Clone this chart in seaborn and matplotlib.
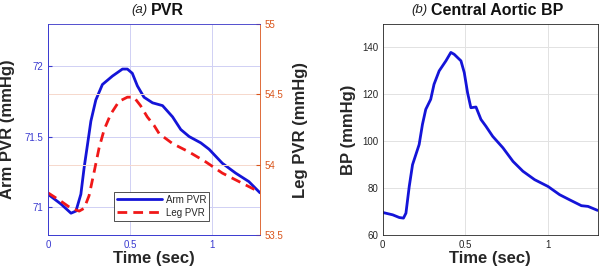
import numpy as np
import pandas as pd
import matplotlib
matplotlib.use("Agg")
import matplotlib.pyplot as plt
import seaborn as sns

sns.set_style("white")
plt.rcParams['font.family'] = ['Liberation Sans', 'DejaVu Sans']

# (a) PVR
arm_t = [0, 0.079, 0.14, 0.17, 0.2, 0.22, 0.24, 0.261, 0.291, 0.331, 0.392, 0.453,
         0.483, 0.513, 0.544, 0.584, 0.636, 0.697, 0.758, 0.808, 0.859, 0.93, 0.98,
         1.061, 1.142, 1.222, 1.29]
arm_pvr = [71.09, 71.02, 70.955, 70.97, 71.09, 71.28, 71.44, 71.61, 71.76, 71.87, 71.93,
           71.98, 71.98, 71.95, 71.86, 71.78, 71.74, 71.72, 71.64, 71.55, 71.50, 71.455,
           71.41, 71.31, 71.24, 71.18, 71.10]

leg_t = [0, 0.079, 0.14, 0.19, 0.22, 0.25, 0.281, 0.311, 0.342, 0.382, 0.432, 0.483,
         0.523, 0.563, 0.604, 0.645, 0.677, 0.758, 0.859, 0.96, 1.061, 1.162, 1.263, 1.29]
leg_pvr = [53.80, 53.74, 53.69, 53.67, 53.69, 53.78, 53.95, 54.12, 54.25, 54.36, 54.45,
           54.48, 54.48, 54.42, 54.34, 54.28, 54.22, 54.15, 54.09, 54.02, 53.94, 53.88,
           53.82, 53.81]

# (b) central aortic BP
bp_t = [0, 0.06, 0.1, 0.125, 0.14, 0.16, 0.18, 0.2, 0.22, 0.24, 0.26, 0.29, 0.31,
        0.341, 0.382, 0.412, 0.432, 0.473, 0.493, 0.513, 0.533, 0.564, 0.594, 0.624,
        0.665, 0.727, 0.788, 0.848, 0.919, 1.0, 1.07, 1.131, 1.202, 1.242, 1.30]
bp = [69.6, 68.6, 67.45, 67.2, 69.3, 80.7, 90.0, 94.3, 98.6, 107.2, 113.6, 117.9, 124.3,
      130.0, 134.3, 137.9, 137.1, 134.3, 129.3, 120.7, 114.3, 114.6, 109.3, 106.4,
      102.1, 97.2, 91.4, 87.2, 83.6, 80.7, 77.2, 75.0, 72.5, 72.2, 70.5]

blue = "#1414d8"
left_c = "#3a3ad0"
right_c = "#d9541a"
red = "#f01818"

fig = plt.figure(figsize=(6, 2.75), dpi=100)

# ---- panel a ----
ax = fig.add_axes([0.08, 0.1455, 0.3533, 0.767])
ax2 = ax.twinx()
sns.lineplot(x=arm_t, y=arm_pvr, ax=ax, color=blue, lw=2, label="Arm PVR", legend=False)
sns.lineplot(x=leg_t, y=leg_pvr, ax=ax2, color=red, lw=2, ls=(0, (3.5, 2.2)),
             label="Leg PVR", legend=False)
ax.set_xlim(0, 1.29)
ax.set_ylim(70.8, 72.3)
ax2.set_ylim(53.5, 55)
ax.set_xticks([0, 0.5, 1])
ax.set_xticklabels(["0", "0.5", "1"])
ax.set_yticks([71, 71.5, 72])
ax.set_yticklabels(["71", "71.5", "72"])
ax2.set_yticks([53.5, 54, 54.5, 55])
ax2.set_yticklabels(["53.5", "54", "54.5", "55"])
ax.grid(True, color="#d0d0f4", lw=0.7)
ax2.grid(True, axis="y", color="#f6d8cc", lw=0.7)
ax.set_axisbelow(True)
ax.tick_params(axis="both", colors=left_c, labelsize=7, direction="in", length=3)
ax2.tick_params(axis="y", colors=right_c, labelsize=7, direction="in", length=3)
for s in ["left", "bottom", "top"]:
    ax.spines[s].set_color(left_c)
    ax2.spines[s].set_color(left_c)
ax2.spines["right"].set_color(right_c)
ax.spines["right"].set_visible(False)
for sp in list(ax.spines.values()) + list(ax2.spines.values()):
    sp.set_linewidth(0.6)
ax.set_xlabel("Time (sec)", fontsize=12, fontweight="bold", labelpad=1)
ax.set_ylabel("Arm PVR (mmHg)", fontsize=12, fontweight="bold", labelpad=7)
ax2.set_ylabel("Leg PVR (mmHg)", fontsize=12, fontweight="bold", labelpad=7)
ax.text(0.47, 1.065, "(a)", transform=ax.transAxes, ha="right", va="center",
        fontsize=9.5, style="italic", color="#222222")
ax.text(0.485, 1.065, "PVR", transform=ax.transAxes, ha="left", va="center",
        fontsize=11.5, fontweight="bold", color="#111111")
h1, l1 = ax.get_legend_handles_labels()
h2, l2 = ax2.get_legend_handles_labels()
leg = ax2.legend(h1 + h2, l1 + l2, loc="lower left", bbox_to_anchor=(0.29, 0.045),
                 fontsize=7, frameon=True, fancybox=False, framealpha=1,
                 handlelength=4.6, borderpad=0.3, labelspacing=0.3, handletextpad=0.4)
leg.get_frame().set_edgecolor("#333333")
leg.get_frame().set_linewidth(0.6)

# ---- panel b ----
bx = fig.add_axes([0.638, 0.1455, 0.358, 0.767])
sns.lineplot(x=bp_t, y=bp, ax=bx, color=blue, lw=2)
bx.set_xlim(0, 1.30)
bx.set_ylim(60, 150)
bx.set_xticks([0, 0.5, 1])
bx.set_xticklabels(["0", "0.5", "1"])
bx.set_yticks([60, 80, 100, 120, 140])
bx.grid(True, color="#e2e2e2", lw=0.7)
bx.tick_params(axis="both", colors="#262626", labelsize=7, direction="in", length=3)
for sp in bx.spines.values():
    sp.set_color("#262626")
    sp.set_linewidth(0.6)
bx.set_xlabel("Time (sec)", fontsize=12, fontweight="bold", labelpad=1)
bx.set_ylabel("BP (mmHg)", fontsize=12, fontweight="bold", labelpad=4)
bx.text(0.21, 1.065, "(b)", transform=bx.transAxes, ha="right", va="center",
        fontsize=9.5, style="italic", color="#222222")
bx.text(0.225, 1.065, "Central Aortic BP", transform=bx.transAxes, ha="left",
        va="center", fontsize=11.5, fontweight="bold", color="#111111")

fig.savefig("out.png", dpi=100)
